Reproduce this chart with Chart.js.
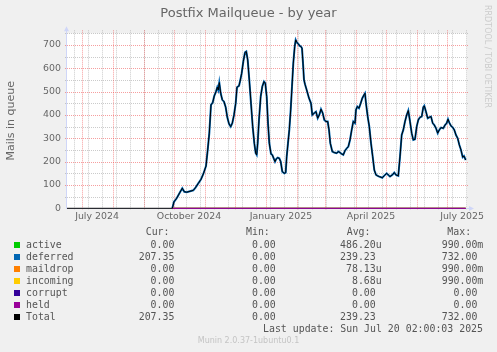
<!DOCTYPE html>
<html>
<head>
<meta charset="utf-8">
<script src="https://cdn.jsdelivr.net/npm/chart.js@4/dist/chart.umd.min.js"></script>
<style>
body{margin:0;background:#f0f0f0;}
#wrap{position:relative;width:497px;height:352px;overflow:hidden;font-family:"DejaVu Sans";}
#c{position:absolute;left:0;top:0;}
.t{position:absolute;white-space:pre;color:#666;}
.mono{font-family:"DejaVu Sans Mono";font-size:9.9px;line-height:12px;color:#555;}
.sq{position:absolute;width:6px;height:6px;}
</style>
</head>
<body>
<div id="wrap">
<canvas id="c" width="497" height="352"></canvas>
<div class="t" style="left:0;width:497px;text-align:center;top:5px;font-size:13px;line-height:16px;">Postfix Mailqueue - by year</div>
<div class="t" style="left:483px;top:5px;font-size:8px;writing-mode:vertical-rl;color:#cccccc;">RRDTOOL / TOBI OETIKER</div>
<div id="legend"></div>
<div class="t mono" style="right:14px;top:322.7px;">Last update: Sun Jul 20 02:00:03 2025</div>
<div class="t" style="left:0;width:497px;text-align:center;top:336px;font-size:8px;line-height:10px;color:#c4c4c4;">Munin 2.0.37-1ubuntu0.1</div>
</div>
<script>
// x = days from the left edge of the graph (graph starts mid June 2024)
var days = [
105.3,107,109.7,113,115.3,117.3,119.7,123,126.3,128.7,
131.3,134,136.3,139,140.7,142.3,144,145.7,147.3,149,
150.3,151.3,152.3,153.7,155.3,157,158.7,160.3,162,163.7,
165.3,167,168.7,170,172,173,174.7,176.3,178,179.3,
180.7,182.3,184,185.7,187.3,188.7,189.7,190.7,192,193.7,
195.3,197,198.3,199.7,201,202.3,204,205.3,206.7,208,
209.3,210.7,212.3,213.7,215.3,217.3,218.7,219.7,221,222.3,
223.7,225,226.3,227.7,228.7,230,231.3,232.7,234,235,
236,237,238,239.7,242,244,245.3,247.3,249,250.7,
252.3,254,255.7,257.3,259,260.7,262,263.3,265.3,267.3,
269.7,271.3,273,274.7,276.3,278,279.7,281.3,283,284.7,
286.3,288,289,290.3,292,293.7,295.3,297,298,299,
300.7,302.3,304,305.7,307.3,309,310.7,312.3,315.3,317.3,
319.7,321.3,323,325.3,327.3,329,331.3,333,334.7,336.3,
338,339.7,341.3,343,344.7,346.3,348,349.7,351.3,353,
354.7,356.3,357.3,359,360.7,362.3,364,365.7,367.3,369,
370.7,372.3,374,376.3,378,379.7,381,382.3,384,385.7,
387.3,389,390.7,392.3,394,395.7,397,398.7
];
var deferred = [
0,28,43,69,86,71,69,73,77,90,
107,124,147,181,250,322,443,453,482,500,
519,507,539,493,465,457,433,390,362,350,
365,400,450,519,525,543,579,629,668,672,
636,550,450,350,279,236,229,279,379,479,
522,543,536,479,365,279,233,229,214,200,
212,217,214,200,157,150,153,221,279,336,
422,522,622,693,722,710,705,696,693,686,
622,550,532,507,472,450,400,408,414,386,
400,425,408,379,372,372,336,279,243,239,
236,243,239,233,229,247,257,264,293,336,
372,365,422,436,429,450,472,486,493,450,
393,350,279,221,164,143,139,136,131,140,
150,143,136,143,153,143,139,221,314,336,
372,400,419,372,322,293,296,350,379,390,
393,433,439,414,386,390,393,365,357,343,
322,336,346,343,357,365,382,367,353,347,
336,314,300,272,250,219,224,207
];
// other queues sit at zero once data exists; Total is zero before that
var flatDays = [105.3, 398.7];
var flatValues = [0, 0];
var totalLeadDays = [0, 105.3];
var totalLeadValues = [0, 0];

var monthStarts = [15,46,77,107,138,168,199,230,258,289,319,350,380];
var labelDays = [30,122,214,304,395];
var tickLabels = ["July 2024","October 2024","January 2025","April 2025","July 2025"];
var yTicks = [0,100,200,300,400,500,600,700];

var names = ["active","deferred","maildrop","incoming","corrupt","held","Total"];
var colors = ["#00cc00","#0066b3","#ff8000","#ffcc00","#330099","#990099","#000000"];
var curV = ["0.00 ","207.35 ","0.00 ","0.00 ","0.00 ","0.00 ","207.35 "];
var minV = ["0.00 ","0.00 ","0.00 ","0.00 ","0.00 ","0.00 ","0.00 "];
var avgV = ["486.20u","239.23 ","78.13u","8.68u","0.00 ","0.00 ","239.23 "];
var maxV = ["990.00m","732.00 ","990.00m","990.00m","0.00 ","0.00 ","732.00 "];

function pts(xs, ys){ return xs.map(function(x,i){ return {x:x, y:ys[i]}; }); }

// legend
var lg = document.getElementById('legend');
var html = '';
var heads = [["Cur:",145.7],["Min:",246],["Avg:",346.7],["Max:",447.3]];
heads.forEach(function(h){ html += '<div class="t mono" style="left:'+h[1]+'px;top:226.3px;">'+h[0]+'</div>'; });
var rights = [180.3,281.7,381.7,483.3];
names.forEach(function(n,i){
  var cy = 244.7 + i*12;
  html += '<div class="sq" style="left:14px;top:'+(cy-3)+'px;background:'+colors[i]+'"></div>';
  html += '<div class="t mono" style="left:26px;top:'+(cy-6)+'px;">'+n+'</div>';
  [curV,minV,avgV,maxV].forEach(function(arr,k){
    html += '<div class="t mono" style="right:'+(497-rights[k])+'px;top:'+(cy-6)+'px;">'+arr[i]+'</div>';
  });
});
lg.innerHTML = html;

var gridPlugin = {
  id: 'munin',
  beforeDraw: function(chart){
    var ctx = chart.ctx, a = chart.chartArea;
    var xs = chart.scales.x, ys = chart.scales.y;
    ctx.save();
    ctx.fillStyle = '#ffffff';
    ctx.fillRect(a.left, a.top, a.right - a.left, a.bottom - a.top);
    ctx.lineWidth = 1;
    ctx.setLineDash([1,1]);
    function vline(d, col){
      var p = Math.round(xs.getPixelForValue(d)) + 0.5;
      ctx.strokeStyle = col;
      ctx.beginPath(); ctx.moveTo(p, a.top - 3); ctx.lineTo(p, a.bottom + 2); ctx.stroke();
    }
    function hline(v, col){
      var p = Math.round(ys.getPixelForValue(v)) + 0.5;
      ctx.strokeStyle = col;
      ctx.beginPath(); ctx.moveTo(a.left - 2, p); ctx.lineTo(a.right + 2, p); ctx.stroke();
    }
    var gray = 'rgba(140,140,140,0.45)', red = 'rgba(235,40,40,0.45)';
    for (var d = 6.5; d <= 400; d += 14) vline(d, gray);
    for (var v = 50; v <= 750; v += 100) hline(v, gray);
    monthStarts.forEach(function(d){ vline(d, red); });
    yTicks.forEach(function(v){ if (v > 0) hline(v, red); });
    ctx.restore();
  },
  beforeDatasetsDraw: function(chart){
    var ctx = chart.ctx, a = chart.chartArea;
    ctx.save();
    ctx.strokeStyle = '#cfd6f8';
    ctx.fillStyle = '#cfd6f8';
    ctx.lineWidth = 1;
    var y0 = Math.round(a.bottom) + 0.5, x0 = Math.round(a.left) - 0.5;
    ctx.beginPath(); ctx.moveTo(x0, y0); ctx.lineTo(x0, a.top - 4); ctx.stroke();
    ctx.beginPath(); ctx.moveTo(x0, y0); ctx.lineTo(a.right + 3, y0); ctx.stroke();
    ctx.beginPath(); ctx.moveTo(x0 - 2.5, a.top - 2); ctx.lineTo(x0 + 2.5, a.top - 2); ctx.lineTo(x0, a.top - 7); ctx.closePath(); ctx.fill();
    ctx.beginPath(); ctx.moveTo(a.right + 2, y0 - 2.5); ctx.lineTo(a.right + 2, y0 + 2.5); ctx.lineTo(a.right + 7, y0); ctx.closePath(); ctx.fill();
    ctx.restore();
  }
};

function flat(name, color, order){
  return { label: name, data: pts(flatDays, flatValues), borderColor: color, borderWidth: 1, order: order };
}

Chart.defaults.font.family = 'DejaVu Sans';
Chart.defaults.color = '#666';

new Chart(document.getElementById('c').getContext('2d'), {
  type: 'line',
  data: {
    datasets: [
      { label: 'Total', data: pts(totalLeadDays, totalLeadValues).concat(pts(days, deferred)), borderColor: '#000000', borderWidth: 1, order: 0 },
      flat('held', '#990099', 1),
      flat('corrupt', '#330099', 2),
      flat('incoming', '#ffcc00', 3),
      flat('maildrop', '#ff8000', 4),
      { label: 'deferred', data: pts(days, deferred), borderColor: '#0066b3', borderWidth: 2, order: 5 },
      flat('active', '#00cc00', 6)
    ]
  },
  options: {
    responsive: false,
    animation: false,
    devicePixelRatio: 1,
    layout: { padding: { left: 0, top: 33.3, right: 30, bottom: 123.7 } },
    elements: { point: { radius: 0 }, line: { tension: 0 } },
    datasets: { line: { clip: 4 } },
    plugins: { legend: { display: false }, tooltip: { enabled: false } },
    scales: {
      x: {
        type: 'linear', min: 0, max: 400,
        grid: { display: false, drawTicks: false },
        border: { display: false },
        afterBuildTicks: function(s){ s.ticks = labelDays.map(function(v){ return {value: v}; }); },
        afterFit: function(s){ s.height = 20; },
        ticks: {
          autoSkip: false, maxRotation: 0, padding: 3,
          font: { size: 9.4 }, color: '#666',
          callback: function(v, i){ return tickLabels[i]; }
        }
      },
      y: {
        min: 0, max: 750,
        grid: { display: false, drawTicks: false },
        border: { display: false },
        afterBuildTicks: function(s){ s.ticks = yTicks.map(function(v){ return {value: v}; }); },
        afterFit: function(s){ s.width = 67; },
        ticks: { padding: 6, font: { size: 9.4 }, color: '#666' },
        title: { display: true, text: 'Mails in queue', font: { size: 11 }, color: '#666', padding: { top: 4.4, bottom: 0 } }
      }
    }
  },
  plugins: [gridPlugin]
});
</script>
</body>
</html>
